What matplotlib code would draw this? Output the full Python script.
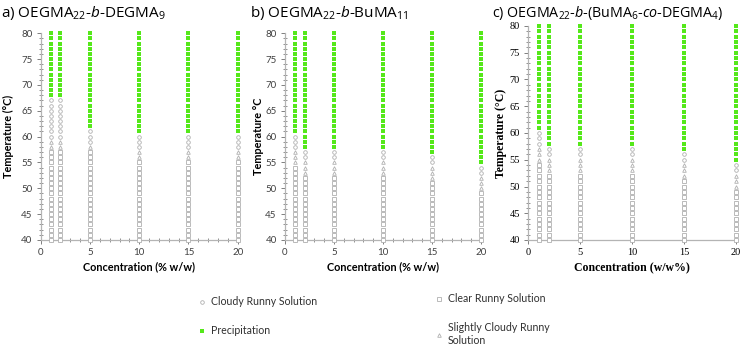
import numpy as np
import matplotlib
matplotlib.use("Agg")
from matplotlib import pyplot as plt
from matplotlib.lines import Line2D
from matplotlib.ticker import MultipleLocator

plt.rcParams['mathtext.fontset'] = 'custom'
plt.rcParams['mathtext.rm'] = 'Open Sans'
plt.rcParams['mathtext.it'] = 'Open Sans:italic'

conc = [1, 2, 5, 10, 15, 20]
temps = list(range(40, 81))

# state runs per concentration, read from 40 C upwards
# c = clear runny, t = slightly cloudy runny, o = cloudy runny, p = precipitation
runs_a = [
    [("c", 18), ("t", 2), ("o", 8), ("p", 13)],
    [("c", 18), ("t", 2), ("o", 8), ("p", 13)],
    [("c", 18), ("t", 1), ("o", 3), ("p", 19)],
    [("c", 16), ("t", 2), ("o", 3), ("p", 20)],
    [("c", 16), ("t", 2), ("o", 3), ("p", 20)],
    [("c", 16), ("t", 2), ("o", 3), ("p", 20)],
]
runs_b = [
    [("c", 15), ("t", 3), ("o", 3), ("p", 20)],
    [("c", 13), ("t", 3), ("o", 2), ("p", 23)],
    [("c", 13), ("t", 3), ("o", 2), ("p", 23)],
    [("c", 13), ("t", 3), ("o", 2), ("p", 23)],
    [("c", 12), ("t", 3), ("o", 2), ("p", 24)],
    [("c", 10), ("t", 3), ("o", 2), ("p", 26)],
]
runs_c = [
    [("c", 15), ("t", 3), ("o", 3), ("p", 20)],
    [("c", 13), ("t", 3), ("o", 2), ("p", 23)],
    [("c", 13), ("t", 3), ("o", 2), ("p", 23)],
    [("c", 13), ("t", 3), ("o", 2), ("p", 23)],
    [("c", 12), ("t", 3), ("o", 2), ("p", 24)],
    [("c", 10), ("t", 3), ("o", 2), ("p", 26)],
]

GRAY = '#b0b0b0'
GREEN = '#55e81a'
STYLE = {
    'c': dict(marker='s', mfc='white', mec=GRAY, ms=2.2, mew=0.6),
    't': dict(marker='^', mfc='white', mec=GRAY, ms=2.6, mew=0.6),
    'o': dict(marker='o', mfc='white', mec=GRAY, ms=2.6, mew=0.6),
    'p': dict(marker='s', mfc=GREEN, mec=GREEN, ms=2.4, mew=0.0),
}

W, H = 745, 351
fig = plt.figure(figsize=(W / 100, H / 100), dpi=100)


def px_axes(x0, x1, ytop, ybot):
    return fig.add_axes([x0 / W, 1 - ybot / H, (x1 - x0) / W, (ybot - ytop) / H])


def draw_panel(ax, runs, font, xminor=True):
    for x, col in zip(conc, runs):
        states = []
        for s, n in col:
            states += [s] * n
        for s in 'ctop':
            ys = [t for t, st in zip(temps, states) if st == s]
            if ys:
                ax.plot([x] * len(ys), ys, ls='none', clip_on=False, zorder=3, **STYLE[s])
    ax.set_xlim(0, 20)
    ax.set_ylim(40, 80)
    for side in ['top', 'right']:
        ax.spines[side].set_visible(False)
    for side in ['left', 'bottom']:
        ax.spines[side].set_color('#b4b4b4')
        ax.spines[side].set_linewidth(0.9)
    ax.set_xticks([0, 5, 10, 15, 20])
    ax.set_yticks(range(40, 81, 5))
    ax.yaxis.set_minor_locator(MultipleLocator(1))
    if xminor:
        ax.xaxis.set_minor_locator(MultipleLocator(1))
    ax.tick_params(which='major', direction='out', length=3, width=0.7, color='#7f7f7f', pad=3)
    ax.tick_params(which='minor', direction='inout', length=2.5, width=0.6, color='#7f7f7f')
    for lab in ax.get_xticklabels() + ax.get_yticklabels():
        lab.set_fontfamily(font)
        lab.set_fontsize(7.5 if font == 'Liberation Serif' else 7)
        lab.set_color('#404040' if font != 'Liberation Serif' else 'black')


ax_a = px_axes(40.7, 237.7, 33.3, 240)
ax_b = px_axes(285, 481, 33.3, 240)
ax_c = px_axes(528.3, 735.7, 26, 240)

draw_panel(ax_a, runs_a, 'Lato')
draw_panel(ax_b, runs_b, 'Lato')
draw_panel(ax_c, runs_c, 'Liberation Serif', xminor=False)

# titles
tfont = dict(family='Open Sans', fontsize=11, va='center', ha='left')
fig.text(1 / W, 1 - 13 / H, r'a) OEGMA$_{22}$-$\it{b}$-DEGMA$_{9}$', **tfont)
fig.text(250 / W, 1 - 13 / H, r'b) OEGMA$_{22}$-$\it{b}$-BuMA$_{11}$', **tfont)
fig.text(492 / W, 1 - 13 / H, r'c) OEGMA$_{22}$-$\it{b}$-(BuMA$_{6}$-$\it{co}$-DEGMA$_{4}$)',
         **dict(tfont, fontsize=10.3))

# axis labels
lab = dict(family='Lato', fontsize=7.8, fontweight='bold', va='center', ha='center')
serif = dict(family='Liberation Serif', fontsize=8.5, fontweight='bold', va='center', ha='center')
fig.text(8 / W, 1 - 136 / H, 'Temperature (°C)', rotation=90, **lab)
fig.text(258 / W, 1 - 136 / H, 'Temperature °C', rotation=90, **lab)
fig.text(501 / W, 1 - 133 / H, 'Temperature (°C)', rotation=90, **serif)
fig.text(139 / W, 1 - 267 / H, 'Concentration (% w/w)', **lab)
fig.text(383 / W, 1 - 267 / H, 'Concentration (% w/w)', **lab)
fig.text(632 / W, 1 - 267 / H, 'Concentration (w/w%)', **serif)

# legend
def handle(s):
    return Line2D([], [], ls='none', **STYLE[s])

leg_kw = dict(loc='upper left', frameon=False, handlelength=0.6, handletextpad=0.5,
              labelspacing=1.7, borderpad=0, prop=dict(family='Lato', size=7.6))
leg1 = fig.legend([handle('o'), handle('p')], ['Cloudy Runny Solution', 'Precipitation'],
                  bbox_to_anchor=(194 / W, 1 - 291 / H), **leg_kw)
leg2 = fig.legend([handle('c'), handle('t')], ['Clear Runny Solution', 'Slightly Cloudy Runny\nSolution'],
                  bbox_to_anchor=(431 / W, 1 - 288 / H), **leg_kw)
for leg in (leg1, leg2):
    for t in leg.get_texts():
        t.set_color('#303030')

fig.savefig('out.png', dpi=100)
